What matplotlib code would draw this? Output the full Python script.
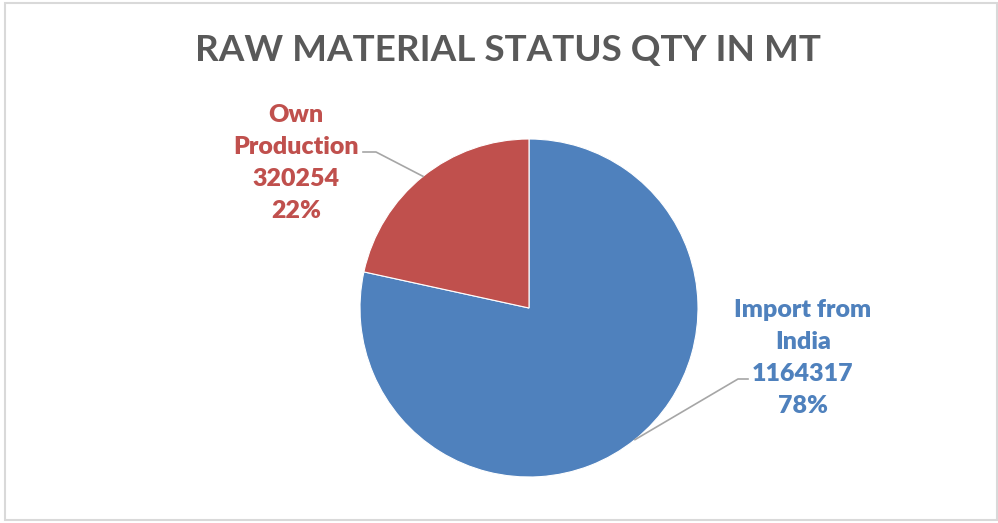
import numpy as np
import matplotlib

matplotlib.use("Agg")
import matplotlib.pyplot as plt
from matplotlib.patches import Rectangle

title = "RAW MATERIAL STATUS QTY IN MT"
categories = ["Import from\nIndia", "Own\nProduction"]
quantities = [1164317, 320254]
colors = ["#4F81BD", "#C0504D"]

W, H = 998, 523
plt.rcParams["font.family"] = ["Lato", "DejaVu Sans"]

fig = plt.figure(figsize=(W / 100, H / 100), dpi=100)
ax = fig.add_axes([0, 0, 1, 1])

# chart border
ax.add_patch(Rectangle((5, 3), 992, 517, fill=False, edgecolor="#D9D9D9", linewidth=1.5))

cx, cy, r = 529, H - 308, 169
wedges, _ = ax.pie(quantities, colors=colors, startangle=90, counterclock=False,
                   center=(cx, cy), radius=r, frame=True,
                   wedgeprops=dict(edgecolor="white", linewidth=0.8))
ax.set_xlim(0, W)
ax.set_ylim(0, H)
ax.set_aspect("equal")
ax.axis("off")

ax.text(W / 2 + 9, H - 51, title, ha="center", va="center", fontsize=26.6,
        fontweight="bold", color="#595959")

total = sum(quantities)
# label centre, leader start and elbow in pixel coords (y from top)
label_pos = [(803, 358), (296, 163)]
leader = [((748, 379), (738, 379)), ((363, 152), (376, 152))]
for w, cat, q, c, (lx, ly), (p0, p1) in zip(wedges, categories, quantities, colors,
                                            label_pos, leader):
    pct = round(q / total * 100)
    ax.text(lx, H - ly, f"{cat}\n{q}\n{pct}%", ha="center", va="center",
            fontsize=18, fontweight="heavy", color=c, linespacing=1.57)
    ang = np.deg2rad((w.theta1 + w.theta2) / 2)
    ex, ey = cx + r * np.cos(ang), cy + r * np.sin(ang)
    ax.plot([p0[0], p1[0], ex], [H - p0[1], H - p1[1], ey], color="#A6A6A6",
            linewidth=1.2, zorder=3)

fig.savefig("out.png", dpi=100)
plt.close(fig)
